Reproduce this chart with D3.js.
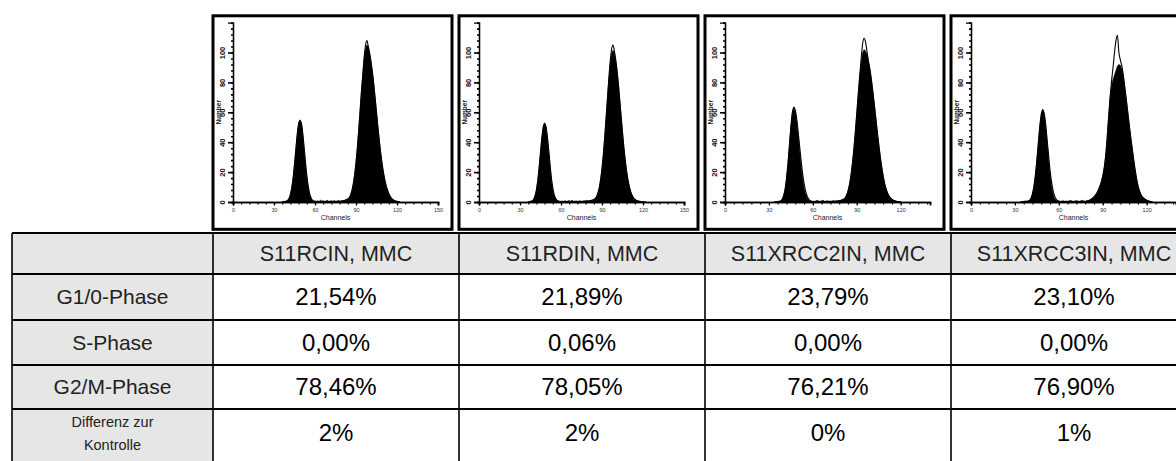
<!DOCTYPE html>
<html>
<head>
<meta charset="utf-8">
<script src="https://cdn.jsdelivr.net/npm/d3@7"></script>
<style>
  html, body { margin: 0; padding: 0; background: #fff; }
  svg { display: block; font-family: "Liberation Sans", Arial, sans-serif; }
</style>
</head>
<body>
<svg id="chart" width="1176" height="461"></svg>
<script>
// ---- samples and table values ----
const samples = ["S11RCIN, MMC", "S11RDIN, MMC", "S11XRCC2IN, MMC", "S11XRCC3IN, MMC"];
const rowLabels = ["G1/0-Phase", "S-Phase", "G2/M-Phase"];
const diffLabel = ["Differenz zur", "Kontrolle"];
const g1Values = [21.54, 21.89, 23.79, 23.10];
const sValues = [0.00, 0.06, 0.00, 0.00];
const g2mValues = [78.46, 78.05, 76.21, 76.90];
const controlDiff = [2, 2, 0, 1];

// ---- DNA histograms: counts per channel, starting at channelStart ----
const channelMax = [150, 150, 140, 140];
const xTickValues = [[0, 30, 60, 90, 120, 150], [0, 30, 60, 90, 120, 150], [0, 30, 60, 90, 120], [0, 30, 60, 90, 120]];
const yTickValues = [0, 20, 40, 60, 80, 100];
const channelStart = [36, 36, 34, 34];

const counts1 = [
  0.3, 0.4, 0.5,
  0.6, 1.1, 2.4, 5.1, 9.5, 16.2, 25.2, 35.4, 45.3, 52.4, 55, 52.4, 45.3, 35.4, 25.2, 16.2, 9.5, 5.1, 2.4, 1.2, 0.7,
  0.6, 0.5, 0.8, 0.4, 1.2, 0.6, 0.9, 0.5, 0.7, 1.1, 0.5, 0.6, 0.9, 0.5, 1.0, 0.6, 0.5, 1.1, 0.7, 0.6, 1.0, 0.8, 1.0, 1.4, 2.0,
  2.7, 4.6, 7.6, 12, 18.2, 26.2, 36.2, 48.1, 61, 74.2, 86.4, 96.3, 102.8, 105, 103.8, 100.3, 94.7, 87.4, 78.9, 69.5,
  59.9, 50.4, 41.5, 33.3, 26.1, 20.2, 15.1, 11.1, 8.0, 5.6, 3.8, 2.5, 1.7, 1.0, 0.6, 0.4, 0.2, 0
];
const fit1 = [
  0.1, 0.2, 0.3,
  0.5, 1.0, 2.3, 5.0, 9.3, 16, 25, 35.2, 45, 52.2, 54.5, 53, 46.5, 37, 27, 18, 11, 6, 3, 1.3, 0.6,
  0.4, 0.3, 0.3, 0.3, 0.3, 0.3, 0.3, 0.3, 0.3, 0.3, 0.3, 0.3, 0.3, 0.3, 0.3, 0.3, 0.3, 0.3, 0.4, 0.5, 0.7, 0.9, 1.2, 1.6, 2.1,
  2.8, 4.6, 7.6, 12, 18.2, 26.2, 36.2, 48.1, 61, 74, 85, 97, 105, 108, 104, 98.5, 93, 86.5, 78.5, 69.5,
  59.9, 50.4, 41.5, 33.3, 26.1, 20.2, 15.1, 11.1, 8.0, 5.6, 3.8, 2.5, 1.7, 1.0, 0.6, 0.4, 0.2, 0
];

const counts2 = [
  0.3, 0.4, 0.6,
  0.8, 1.9, 4.1, 8.2, 14.4, 23, 33.2, 43, 50.3, 53, 50.3, 43, 33.2, 23, 14.4, 8.2, 4.1, 2.2, 1.3, 0.8, 0.6,
  0.5, 0.6, 0.5, 0.9, 0.5, 0.7, 1.0, 0.5, 1.2, 0.6, 0.5, 0.8, 0.5, 0.6, 0.9, 0.5, 0.6, 1.0, 0.7, 1.1, 0.6, 0.8, 1.0, 1.2, 1.4,
  2.2, 3.4, 5.9, 9.5, 15, 22.4, 31.9, 43.3, 56.2, 69.5, 82.1, 92.4, 99.2, 101.5, 99.9, 95.2, 87.9, 78.7, 68.1, 57.1,
  46.5, 36.5, 27.9, 20.6, 14.7, 10.3, 6.9, 4.5, 2.8, 1.9, 1.4, 1.0, 0.7, 0.5, 0.3, 0.2, 0.1, 0
];
const fit2 = [
  0.1, 0.2, 0.4,
  0.7, 1.8, 4.0, 8.0, 14.2, 22.8, 33, 42.8, 50, 52.5, 50.5, 44, 35, 25, 16, 9.5, 5, 2.5, 1.1, 0.5, 0.3,
  0.3, 0.3, 0.3, 0.3, 0.3, 0.3, 0.3, 0.3, 0.3, 0.3, 0.3, 0.3, 0.3, 0.3, 0.3, 0.3, 0.3, 0.3, 0.4, 0.5, 0.6, 0.8, 1.0, 1.3, 1.7,
  2.3, 3.5, 6, 9.6, 15, 22.4, 31.9, 43.3, 56.2, 69.5, 82.5, 94, 102, 105, 101.5, 95.2, 87.9, 78.7, 68.1, 57.1,
  46.5, 36.5, 27.9, 20.6, 14.7, 10.3, 6.9, 4.5, 2.8, 1.7, 1.0, 0.6, 0.4, 0.2, 0.1, 0, 0, 0
];

const counts3 = [
  0.3, 0.3, 0.4, 0.5,
  0.7, 1.8, 4.2, 8.5, 15.7, 25.9, 38.2, 50.5, 59.6, 63, 60.6, 54, 44.5, 34, 24, 15.7, 9.5, 5.4, 2.8, 1.3, 0.8, 0.6, 0.5,
  0.5, 0.7, 1.2, 0.6, 0.5, 0.8, 1.1, 0.5, 0.6, 0.9, 0.5, 0.7, 0.6, 1.0, 0.6, 0.8, 0.9, 1.0, 1.2, 1.5,
  1.9, 2.7, 4.5, 7.3, 11.6, 17.6, 25.5, 35.2, 46.7, 59.3, 72.1, 83.9, 93.5, 99.9, 102, 101, 98.5, 94, 88.5, 81.5,
  73.5, 65, 56, 47, 38.5, 30.5, 23.5, 17.5, 12.5, 8.8, 6, 4, 2.7, 1.8, 1.2, 0.8, 0.5, 0.3, 0.2, 0.1
];
const fit3 = [
  0.1, 0.2, 0.3, 0.4,
  0.6, 1.6, 4.0, 8.2, 15.4, 25.5, 38, 50.3, 59.8, 63.5, 61.5, 55.5, 46.5, 37, 27.5, 19, 12.5, 7.5, 4.2, 2.2, 1.1, 0.5, 0.3,
  0.3, 0.3, 0.3, 0.3, 0.3, 0.3, 0.3, 0.3, 0.3, 0.3, 0.3, 0.3, 0.3, 0.3, 0.4, 0.5, 0.6, 0.8, 1.0, 1.4,
  1.9, 2.7, 4.5, 7.3, 11.6, 17.6, 25.5, 35.2, 46.7, 59.3, 72.1, 84.5, 96, 106, 109.5, 107, 100.5, 94, 88.5, 81.5,
  73.5, 65, 56, 47, 38.5, 30.5, 23.5, 17.5, 12.5, 8.8, 6, 4, 2.7, 1.8, 1.2, 0.8, 0.5, 0.3, 0.2, 0.1
];

const counts4 = [
  0.2, 0.3, 0.4, 0.5, 0.5, 0.6,
  1.2, 2.7, 5.7, 10.7, 18.3, 28.4, 39.9, 51, 59, 62, 59, 51, 39.9, 28.4, 18.3, 10.7, 5.7, 2.7, 1.4, 0.9, 0.7,
  0.5, 0.6, 0.9, 0.5, 0.7, 0.5, 0.8, 1.1, 0.6, 0.5, 0.7, 1.0, 0.6, 0.5, 0.8, 1.2, 0.7, 0.6, 0.9, 1.0, 1.3, 1.8, 2.4, 3.2, 4.5, 6,
  8, 10.5, 13.5, 17.5, 23, 31, 43, 57, 70, 78, 82, 85, 88, 91, 92, 91.5, 89, 84, 77, 69,
  60.5, 52, 44, 36.5, 29, 22, 16, 11, 7.5, 5, 3.5, 2.5, 1.8, 1.2, 0.8, 0.5, 0.3, 0.1
];
const fit4 = [
  0.1, 0.2, 0.3, 0.4, 0.5, 0.6,
  1.1, 2.6, 5.5, 10.5, 18, 28, 39.5, 50.5, 58.5, 61.5, 59, 52, 41.5, 31, 21, 13.5, 8, 4.3, 2.2, 1, 0.5,
  0.3, 0.3, 0.3, 0.3, 0.3, 0.3, 0.3, 0.3, 0.3, 0.3, 0.3, 0.3, 0.3, 0.3, 0.3, 0.3, 0.3, 0.3, 0.5, 0.8, 1.2, 1.8, 2.6, 3.6, 4.8, 6.2,
  8, 10.5, 13.5, 17.5, 23, 31, 43, 57, 70, 81, 90, 100, 108, 111.5, 100, 95, 91, 85, 77, 69,
  60.5, 52, 44, 36.5, 29, 22, 16, 11, 7.5, 5, 3.5, 2.5, 1.8, 1.2, 0.8, 0.5, 0.3, 0.1
];

const histCounts = [counts1, counts2, counts3, counts4];
const histFits = [fit1, fit2, fit3, fit4];

// ---- layout ----
const svg = d3.select("#chart");
const tableLeft = 12;
const firstCol = 213;
const colW = 246;
const rowEdges = [233, 274, 320, 365, 409, 468];
const headerFill = "#e6e6e6";

const toPct2 = v => d3.format(".2f")(v).replace(".", ",") + "%";
const toPct0 = v => d3.format("d")(v) + "%";

// ---- histogram panels above the table ----
const panelTop = 15.8, panelH = 213.5, panelW = 239;
const plotBottom = 202, plotTop = 22.6, axisInset = 20, axisLen = 205;

samples.forEach((name, i) => {
  const left = firstCol + i * colW;
  const g = svg.append("g").attr("class", "panel");

  g.append("rect")
    .attr("x", left).attr("y", panelTop)
    .attr("width", panelW).attr("height", panelH)
    .attr("fill", "#fff").attr("stroke", "#000").attr("stroke-width", 3);

  const x = d3.scaleLinear().domain([0, channelMax[i]]).range([left + axisInset, left + axisInset + axisLen]);
  const y = d3.scaleLinear().domain([0, 120]).range([plotBottom, plotTop]);

  const pts = histCounts[i].map((c, k) => ({ ch: channelStart[i] + k, c }));
  const fitPts = histFits[i].map((c, k) => ({ ch: channelStart[i] + k, c }));

  // measured histogram, filled
  g.append("path")
    .datum(pts)
    .attr("fill", "#000").attr("stroke", "#000").attr("stroke-width", 0.6)
    .attr("d", d3.area().x(d => x(d.ch)).y0(y(0)).y1(d => y(d.c)).curve(d3.curveLinear));

  // model fit outline
  g.append("path").datum(fitPts)
    .attr("fill", "none").attr("stroke", "#000").attr("stroke-width", 1.1)
    .attr("d", d3.line().x(d => x(d.ch)).y(d => y(d.c)).curve(d3.curveMonotoneX));

  // x axis: minor ticks every 6 channels, labelled ticks every 30
  const minorX = d3.range(0, channelMax[i] + 0.01, 6);
  const xMinor = g.append("g").attr("transform", `translate(0,${plotBottom})`)
    .call(d3.axisBottom(x).tickValues(minorX).tickSize(2.5).tickFormat(""));
  const xMajor = g.append("g").attr("transform", `translate(0,${plotBottom})`)
    .call(d3.axisBottom(x).tickValues(xTickValues[i]).tickSize(3.5).tickPadding(3));
  [xMinor, xMajor].forEach(a => {
    a.select(".domain").attr("stroke", "#000").attr("stroke-width", 1.6);
    a.selectAll(".tick line").attr("stroke", "#000").attr("stroke-width", 1.2);
  });
  xMajor.selectAll(".tick text")
    .attr("font-size", 5.5).attr("fill", "#333")
    .attr("font-family", "Liberation Sans, Arial, sans-serif");

  g.append("text")
    .attr("x", left + axisInset + axisLen / 2).attr("y", 219.5)
    .attr("text-anchor", "middle").attr("font-size", 7).attr("fill", "#222")
    .text("Channels");

  // y axis
  const minorY = d3.range(0, 120.01, 4);
  const yMinor = g.append("g").attr("transform", `translate(${left + axisInset},0)`)
    .call(d3.axisLeft(y).tickValues(minorY).tickSize(2).tickFormat(""));
  const yMajor = g.append("g").attr("transform", `translate(${left + axisInset},0)`)
    .call(d3.axisLeft(y).tickValues(yTickValues).tickSize(5).tickFormat(d => d));
  [yMinor, yMajor].forEach(a => {
    a.select(".domain").attr("stroke", "#000").attr("stroke-width", 1.3);
    a.selectAll(".tick line").attr("stroke", "#000").attr("stroke-width", 1.6);
  });
  yMajor.selectAll(".tick text")
    .attr("font-size", 7.5).attr("font-weight", "bold").attr("fill", "#111")
    .attr("text-anchor", "middle")
    .attr("x", 0).attr("y", 0).attr("dy", "0.32em")
    .attr("transform", "translate(-10,0) rotate(-90)")
    .attr("font-family", "Liberation Sans, Arial, sans-serif");

  g.append("text")
    .attr("transform", `translate(${left + 6},${y(60)}) rotate(-90)`)
    .attr("text-anchor", "middle").attr("dy", "0.35em")
    .attr("font-size", 6.5).attr("font-weight", "bold").attr("fill", "#111")
    .text("Number");
});

// ---- table ----
const tbl = svg.append("g").attr("class", "table");
const tableRight = firstCol + colW * samples.length;

// shaded header row and label column
tbl.append("rect").attr("x", tableLeft).attr("y", rowEdges[0])
  .attr("width", tableRight - tableLeft).attr("height", rowEdges[1] - rowEdges[0]).attr("fill", headerFill);
tbl.append("rect").attr("x", tableLeft).attr("y", rowEdges[0])
  .attr("width", firstCol - tableLeft).attr("height", rowEdges[5] - rowEdges[0]).attr("fill", headerFill);

// grid lines
rowEdges.slice(0, 5).forEach(yv => {
  tbl.append("line").attr("x1", tableLeft).attr("x2", tableRight)
    .attr("y1", yv).attr("y2", yv).attr("stroke", "#000").attr("stroke-width", 2);
});
const colEdges = [tableLeft].concat(d3.range(samples.length + 1).map(k => firstCol + k * colW));
colEdges.forEach(xv => {
  tbl.append("line").attr("x1", xv).attr("x2", xv)
    .attr("y1", rowEdges[0]).attr("y2", rowEdges[5]).attr("stroke", "#000").attr("stroke-width", 1.6);
});

const mid = k => (rowEdges[k] + rowEdges[k + 1]) / 2;
const colMid = k => firstCol + k * colW + colW / 2;
const labelMid = (tableLeft + firstCol) / 2;

// header
samples.forEach((s, k) => {
  tbl.append("text").attr("x", colMid(k)).attr("y", mid(0)).attr("dy", "0.35em")
    .attr("text-anchor", "middle").attr("font-size", 21.5).attr("fill", "#222").text(s);
});

// phase rows
rowLabels.forEach((lab, r) => {
  tbl.append("text").attr("x", labelMid).attr("y", mid(r + 1)).attr("dy", "0.35em")
    .attr("text-anchor", "middle").attr("font-size", 21).attr("fill", "#222").text(lab);
});
[g1Values, sValues, g2mValues].forEach((vals, r) => {
  vals.forEach((v, k) => {
    tbl.append("text").attr("x", colMid(k)).attr("y", mid(r + 1)).attr("dy", "0.35em")
      .attr("text-anchor", "middle").attr("font-size", 24).attr("fill", "#000").text(toPct2(v));
  });
});

// difference row
const diffTop = rowEdges[4];
diffLabel.forEach((t, j) => {
  tbl.append("text").attr("x", labelMid).attr("y", diffTop + 13 + j * 23).attr("dy", "0.35em")
    .attr("text-anchor", "middle").attr("font-size", 14.5).attr("fill", "#222").text(t);
});
controlDiff.forEach((v, k) => {
  tbl.append("text").attr("x", colMid(k)).attr("y", diffTop + 24).attr("dy", "0.35em")
    .attr("text-anchor", "middle").attr("font-size", 24).attr("fill", "#000").text(toPct0(v));
});
</script>
</body>
</html>
